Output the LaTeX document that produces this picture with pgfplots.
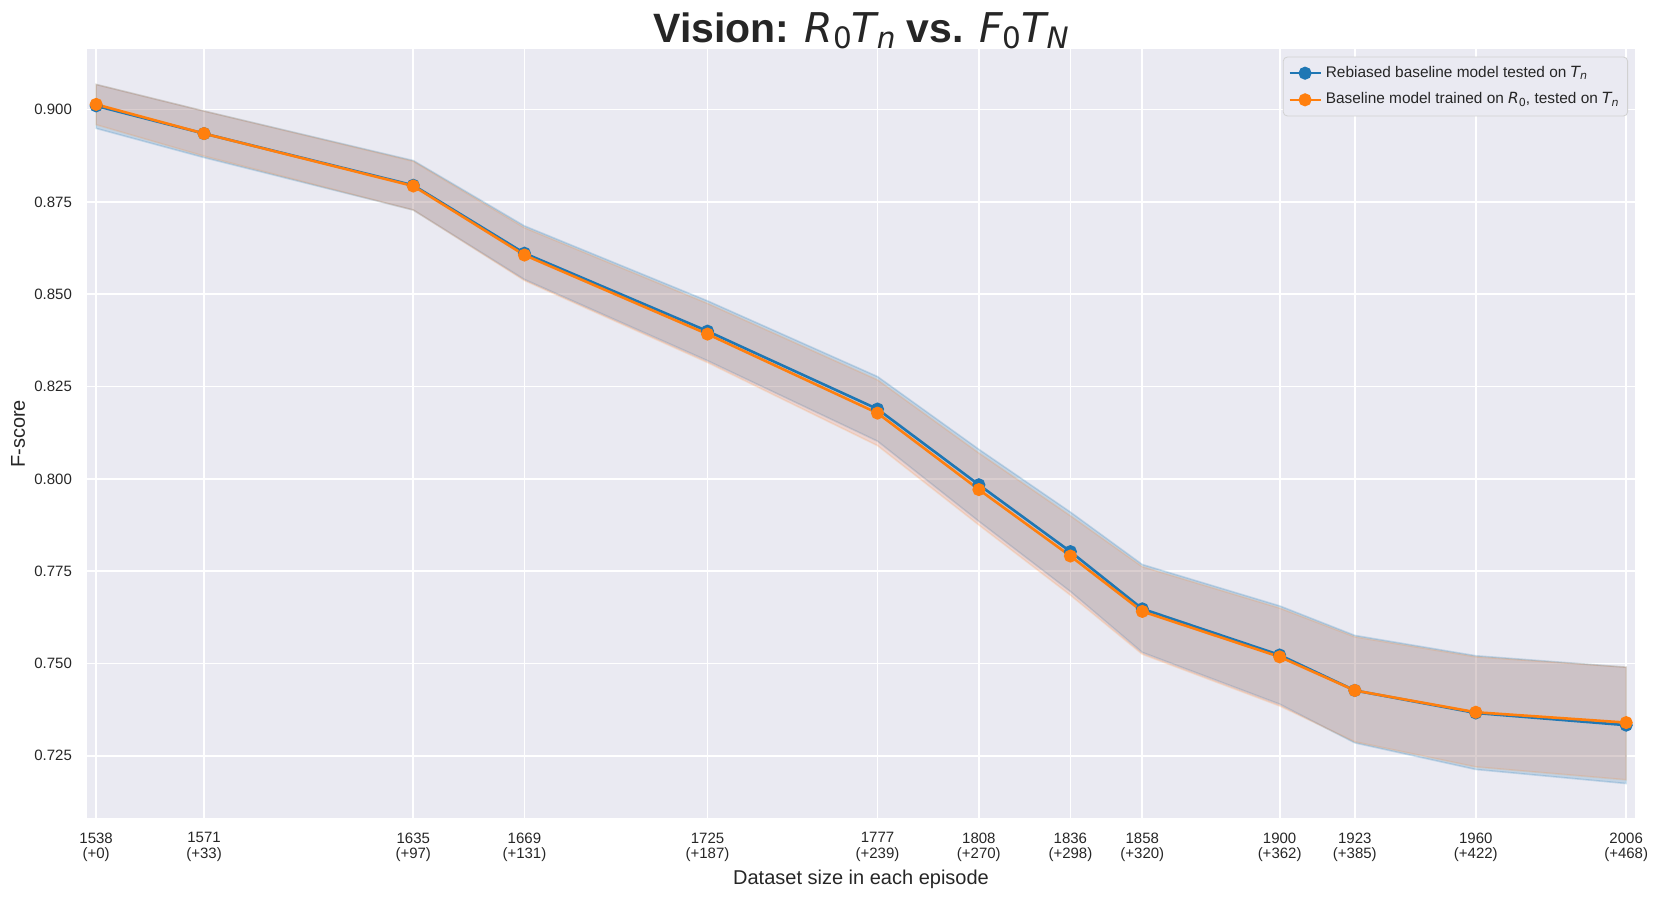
\documentclass[border=0pt]{standalone}
\usepackage{fontspec}
\setmainfont{Liberation Sans}
\newfontfamily\dvs{DejaVu Sans}
\usepackage{pgfplots}
\pgfplotsset{compat=1.18}
\definecolor{bgc}{HTML}{EAEAF2}
\definecolor{tblue}{HTML}{1F77B4}
\definecolor{torange}{HTML}{FF7F0E}
\definecolor{bandorange}{RGB}{251,126,77}
\newcommand{\mi}[1]{{\dvs\itshape #1}}
\newcommand{\msub}[1]{\raisebox{-0.28ex}{\scalebox{0.72}{\dvs #1}}}
\newcommand{\msubi}[1]{\raisebox{-0.28ex}{\scalebox{0.72}{\dvs\itshape #1}}}
\begin{document}
\begin{tikzpicture}
\begin{axis}[
  name=ax,
  scale only axis,
  width=774pt, height=384.5pt,
  xmin=1535.2, xmax=2008.7,
  ymin=0.70803, ymax=0.91627,
  axis background/.style={fill=bgc},
  axis line style={draw=none},
  grid=major,
  major grid style={white, line width=0.9pt},
  major tick length=0pt,
  xtick={1538,1571,1635,1669,1725,1777,1808,1836,1858,1900,1923,1960,2006},
  xticklabels={{1538\\(+0)},{1571\\(+33)},{1635\\(+97)},{1669\\(+131)},{1725\\(+187)},{1777\\(+239)},{1808\\(+270)},{1836\\(+298)},{1858\\(+320)},{1900\\(+362)},{1923\\(+385)},{1960\\(+422)},{2006\\(+468)}},
  xticklabel style={align=center, font=\fontsize{7.5}{7.9}\selectfont, text=black!85, yshift=-3.5pt},
  ytick={0.725,0.75,0.775,0.8,0.825,0.85,0.875,0.9},
  yticklabel style={/pgf/number format/fixed, /pgf/number format/fixed zerofill, /pgf/number format/precision=3, /pgf/number format/assume math mode=true, font=\fontsize{7.5}{9}\selectfont, text=black!85, xshift=-4pt},
  scaled y ticks=false,
  legend style={at={(1,1)}, anchor=north east, xshift=-3.5pt, yshift=-3.6pt, fill=bgc, draw=black!18, rounded corners=2pt, font=\fontsize{7.7}{9}\selectfont, text=black!85, inner sep=2.5pt, row sep=2.2pt, nodes={inner sep=2pt}},
  legend cell align=left,
  legend image code/.code={\draw[mark repeat=2,mark phase=2,#1] plot coordinates {(0pt,0pt) (7.75pt,0pt) (15.5pt,0pt)};},
]
% blue confidence band
\addplot[forget plot, fill=tblue, fill opacity=0.2, draw=tblue, draw opacity=0.2, line width=0.8pt] coordinates {
(1538,0.9068) (1571,0.8996) (1635,0.8862) (1669,0.8685) (1725,0.8482) (1777,0.8277) (1808,0.8080) (1836,0.7910) (1858,0.7768) (1900,0.7656) (1923,0.7576) (1960,0.7521) (2006,0.7490)
(2006,0.7175) (1960,0.7213) (1923,0.7285) (1900,0.7390) (1858,0.7530) (1836,0.7695) (1808,0.7885) (1777,0.8102) (1725,0.8320) (1669,0.8540) (1635,0.8728) (1571,0.8870) (1538,0.8949)
} -- cycle;
% orange confidence band
\addplot[forget plot, fill=bandorange, fill opacity=0.2, draw=torange, draw opacity=0.15, line width=0.8pt] coordinates {
(1538,0.9068) (1571,0.8996) (1635,0.8860) (1669,0.8680) (1725,0.8475) (1777,0.8268) (1808,0.8070) (1836,0.7900) (1858,0.7762) (1900,0.7650) (1923,0.7572) (1960,0.7518) (2006,0.7490)
(2006,0.7185) (1960,0.7220) (1923,0.7288) (1900,0.7385) (1858,0.7525) (1836,0.7685) (1808,0.7875) (1777,0.8090) (1725,0.8315) (1669,0.8537) (1635,0.8728) (1571,0.8874) (1538,0.8959)
} -- cycle;
\addplot[tblue, line width=1.3pt, mark=*, mark size=2.6pt, mark options={fill=tblue, draw=tblue}] coordinates {
(1538,0.9010) (1571,0.8935) (1635,0.8795) (1669,0.8611) (1725,0.8400) (1777,0.8189) (1808,0.7984) (1836,0.7803) (1858,0.7648) (1900,0.7523) (1923,0.7427) (1960,0.7366) (2006,0.7333)
};
\addlegendentry{Rebiased baseline model tested on \mi{T}\msubi{n}}
\addplot[torange, line width=1.3pt, mark=*, mark size=2.6pt, mark options={fill=torange, draw=torange}] coordinates {
(1538,0.9014) (1571,0.8935) (1635,0.8793) (1669,0.8606) (1725,0.8392) (1777,0.8178) (1808,0.7971) (1836,0.7791) (1858,0.7641) (1900,0.7518) (1923,0.7427) (1960,0.7368) (2006,0.7340)
};
\addlegendentry{Baseline model trained on \mi{R}\msub{0}, tested on \mi{T}\msubi{n}}
\end{axis}
\node[anchor=base, font=\fontsize{20.5}{24}\selectfont, text=black!85] at ([yshift=3.3pt]ax.north) {\textbf{Vision:} \mi{R}\msub{0}\mi{T}\msubi{n} \textbf{vs.} \mi{F}\msub{0}\mi{T}\msubi{N}};
\node[anchor=base, font=\fontsize{10}{12}\selectfont, text=black!85] at ([yshift=-33.25pt]ax.south) {Dataset size in each episode};
\node[anchor=base, rotate=90, font=\fontsize{10}{12}\selectfont, text=black!85] at ([xshift=-31pt]ax.west) {F-score};
\pgfresetboundingbox
\path ([shift={(-43.5pt,-39.25pt)}]ax.south west) rectangle ([shift={(11.5pt,24.75pt)}]ax.north east);
\end{tikzpicture}
\end{document}
